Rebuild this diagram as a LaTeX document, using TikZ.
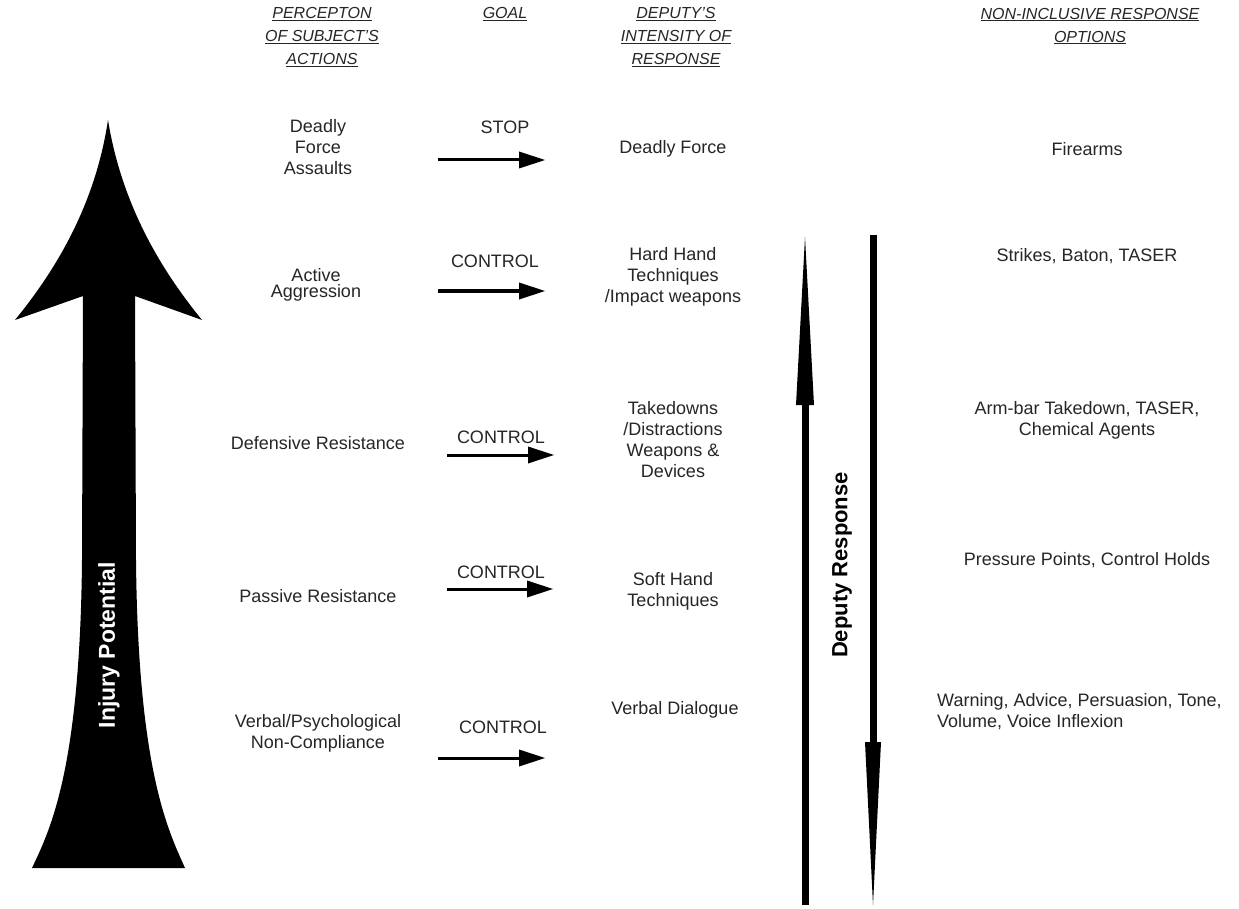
\documentclass[tikz,border=0pt]{standalone}
\usepackage{fontspec}
\setmainfont{Liberation Sans}
\usetikzlibrary{arrows.meta}

\tikzset{
  colhead/.style={font=\fontsize{16}{23}\selectfont\itshape, align=center, text=black!85, inner sep=0pt},
  rowtext/.style={font=\fontsize{18}{21}\selectfont, align=center, text=black!85, inner sep=0pt},
  goallabel/.style={font=\fontsize{18}{21}\selectfont, text=black!85, inner sep=0pt},
  goalarrow/.style={line width=3pt, -{Triangle[length=26pt,width=17pt,line width=0pt]}},
  respup/.style={line width=7pt, -{Triangle[length=168pt,width=18pt,line width=0pt]}},
  respdown/.style={line width=7pt, -{Triangle[length=163pt,width=16pt,line width=0pt]}},
}

\begin{document}
\begin{tikzpicture}[x=1pt, y=-1pt]
    % page = 1239 x 909, one unit = one pixel of the reference
    \fill[white] (0,0) rectangle (1239,909);
    \useasboundingbox (0,0) rectangle (1239,909);

    % column heads
    \node[colhead] (hperc) at (322,37) {\underline{PERCEPTON}\\\underline{OF SUBJECT'S}\\\underline{ACTIONS}};
    \node[colhead] (hgoal) at (505,14) {\underline{GOAL}};
    \node[colhead] (hint) at (676,37) {\underline{DEPUTY'S}\\\underline{INTENSITY OF}\\\underline{RESPONSE}};
    \node[colhead] (hopt) at (1090,26) {\underline{NON-INCLUSIVE RESPONSE}\\\underline{OPTIONS}};

    % injury potential arrow
    \fill[black] (108,120) .. controls (96,200) and (60,265) .. (15,320) -- (83,296)
        -- (82,560) .. controls (80,770) and (50,830) .. (32,868) -- (185,868)
        .. controls (168,830) and (138,770) .. (136,560) -- (135,296) -- (202,320)
        .. controls (157,265) and (121,200) .. (108,120) -- cycle;
    \node[rotate=90, text=white, font=\bfseries\fontsize{23}{26}\selectfont] (injury) at (109,645) {Injury Potential};

    % row 1
    \node[rowtext] (perc1) at (318,147) {Deadly\\Force\\Assaults};
    \node[goallabel] (goal1) at (505,127) {STOP};
    \coordinate (go1a) at (438,160);
    \coordinate (go1b) at (545,160);
    \draw[goalarrow] (go1a) -- (go1b);
    \node[rowtext] (int1) at (673,149) {Deadly Force};
    \node[rowtext] (opt1) at (1087,149) {Firearms};

    % row 2
    \node[rowtext, font=\fontsize{18}{16}\selectfont] (perc2) at (316,285) {Active\\Aggression};
    \node[goallabel] (goal2) at (495,261) {CONTROL};
    \coordinate (go2a) at (438,291);
    \coordinate (go2b) at (545,291);
    \draw[goalarrow] (go2a) -- (go2b);
    \node[rowtext] (int2) at (673,277) {Hard Hand\\Techniques\\/Impact weapons};
    \node[rowtext] (opt2) at (1087,256) {Strikes, Baton, TASER};

    % row 3
    \node[rowtext] (perc3) at (318,443) {Defensive Resistance};
    \node[goallabel] (goal3) at (501,437) {CONTROL};
    \coordinate (go3a) at (447,455);
    \coordinate (go3b) at (554,455);
    \draw[goalarrow] (go3a) -- (go3b);
    \node[rowtext] (int3) at (673,440) {Takedowns\\/Distractions\\Weapons \&\\Devices};
    \node[rowtext] (opt3) at (1087,420) {Arm-bar Takedown, TASER,\\Chemical Agents};

    % row 4
    \node[rowtext] (perc4) at (318,596) {Passive Resistance};
    \node[goallabel] (goal4) at (501,572) {CONTROL};
    \coordinate (go4a) at (447,589);
    \coordinate (go4b) at (553,589);
    \draw[goalarrow] (go4a) -- (go4b);
    \node[rowtext] (int4) at (673,591) {Soft Hand\\Techniques};
    \node[rowtext] (opt4) at (1087,560) {Pressure Points, Control Holds};

    % row 5
    \node[rowtext] (perc5) at (318,733) {Verbal/Psychological\\Non-Compliance};
    \node[goallabel] (goal5) at (503,727) {CONTROL};
    \coordinate (go5a) at (438,758);
    \coordinate (go5b) at (545,758);
    \draw[goalarrow] (go5a) -- (go5b);
    \node[rowtext] (int5) at (675,710) {Verbal Dialogue};
    \node[rowtext, align=left, anchor=west] (opt5) at (937,712) {Warning, Advice, Persuasion, Tone,\\Volume, Voice Inflexion};

    % deputy response arrows
    \coordinate (upfoot) at (805,905);
    \coordinate (uptip) at (805,237);
    \coordinate (dntop) at (873,235);
    \coordinate (dntip) at (873,905);
    \draw[respup] (upfoot) -- (uptip);
    \draw[respdown] (dntop) -- (dntip);
    \node[rotate=90, font=\bfseries\fontsize{22}{26}\selectfont] (deprsp) at (842,565) {Deputy Response};
\end{tikzpicture}
\end{document}
